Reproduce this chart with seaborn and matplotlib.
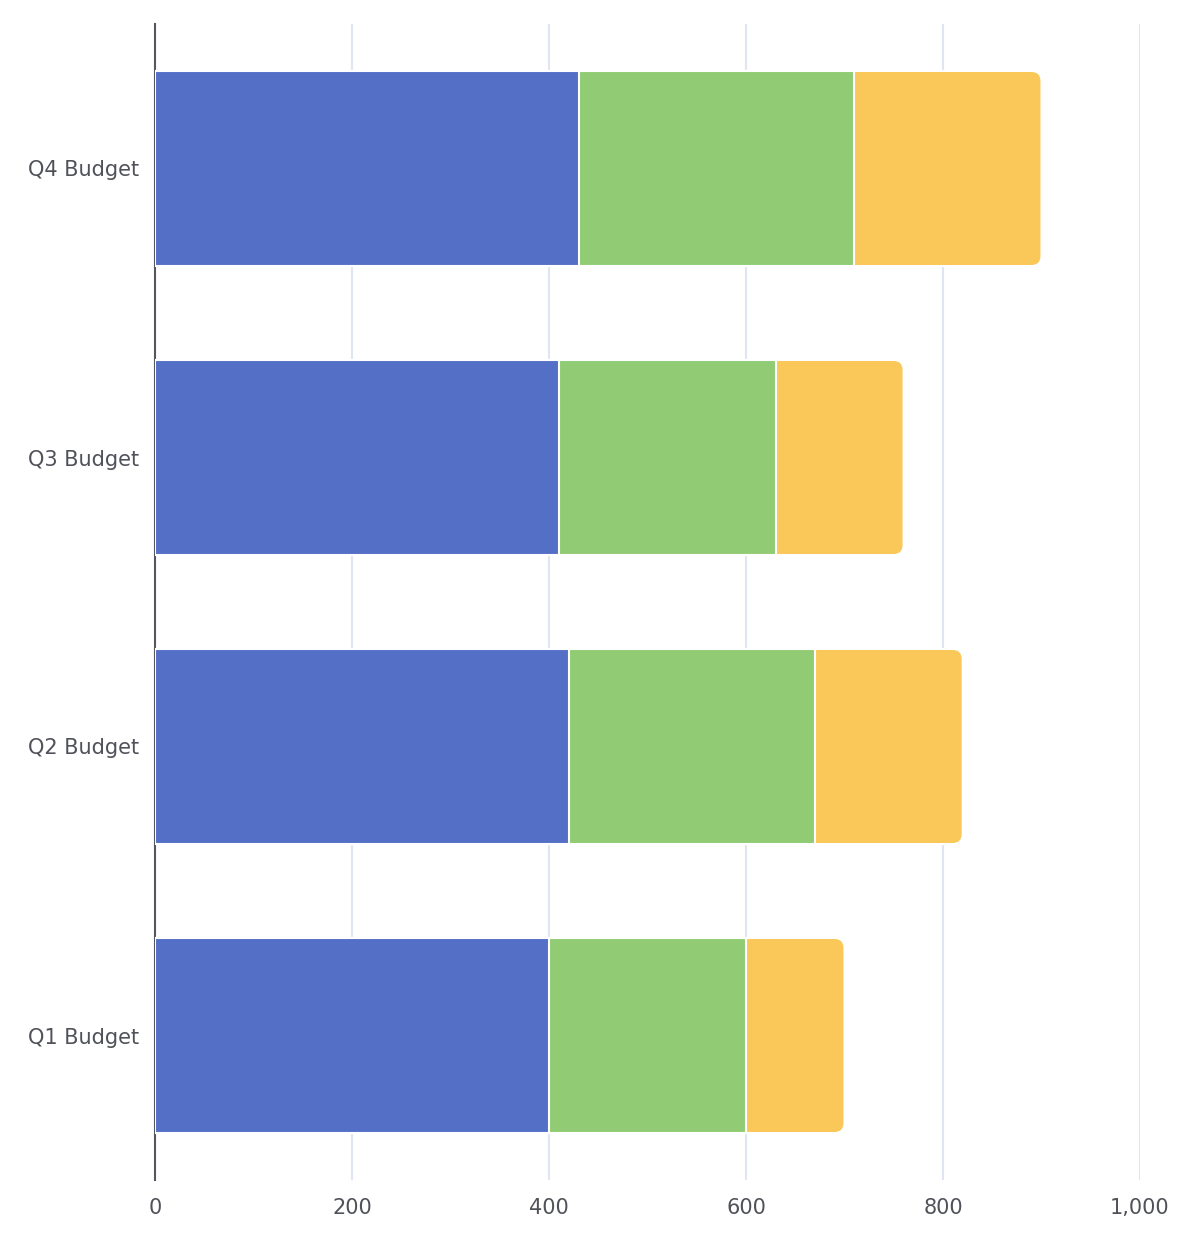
import matplotlib
matplotlib.use("Agg")
import matplotlib.pyplot as plt
from matplotlib.patches import FancyBboxPatch
from matplotlib.ticker import FuncFormatter, MultipleLocator
import seaborn as sns
import pandas as pd

categories = ["Q4 Budget", "Q3 Budget", "Q2 Budget", "Q1 Budget"]
series_a = [430, 410, 420, 400]
series_b = [280, 220, 250, 200]
series_c = [190, 130, 150, 100]
colors = ["#5470c6", "#91cc75", "#fac858"]

sns.set_theme(style="white")
plt.rcParams["font.family"] = ["DejaVu Sans"]

df = pd.DataFrame({"cat": categories, "a": series_a, "b": series_b, "c": series_c})
df["ab"] = df["a"] + df["b"]
df["abc"] = df["ab"] + df["c"]

W, H = 1195, 1243
fig = plt.figure(figsize=(W / 100, H / 100), dpi=100)
ax = fig.add_axes([155 / W, (H - 1180) / H, (1140 - 155) / W, (1180 - 24) / H])

bw = 0.675
sns.barplot(data=df, y="cat", x="abc", order=categories, color=colors[2], width=bw,
            edgecolor="white", linewidth=1.5, saturation=1, ax=ax, zorder=2)
n_c = len(ax.patches)
sns.barplot(data=df, y="cat", x="ab", order=categories, color=colors[1], width=bw,
            edgecolor="white", linewidth=1.5, saturation=1, ax=ax, zorder=3)
sns.barplot(data=df, y="cat", x="a", order=categories, color=colors[0], width=bw,
            edgecolor="white", linewidth=1.5, saturation=1, ax=ax, zorder=4)

ax.set_xlim(0, 1000)
ax.set_ylim(3.5, -0.5)

# rounded right end for the outermost segment
xpx = (1140 - 155) / 1000.0  # px per x unit
ypx = (1180 - 24) / 4.0      # px per y unit
r_px = 10
for p in list(ax.patches)[:n_c]:
    x0, y0, w, h = p.get_x(), p.get_y(), p.get_width(), p.get_height()
    p.set_visible(False)
    fb = FancyBboxPatch((x0, y0), w, h,
                        boxstyle=f"round,pad=0,rounding_size={r_px / xpx}",
                        mutation_aspect=(1 / ypx) / (1 / xpx),
                        facecolor=colors[2], edgecolor="white", linewidth=1.5, zorder=2)
    ax.add_patch(fb)

ax.set_xlabel("")
ax.set_ylabel("")
ax.xaxis.set_major_locator(MultipleLocator(200))
ax.xaxis.set_major_formatter(FuncFormatter(lambda v, _: f"{int(v):,}"))
ax.grid(axis="x", color="#E0E6F1", linewidth=1.5, zorder=0)
ax.set_axisbelow(True)
for s in ["top", "right", "bottom"]:
    ax.spines[s].set_visible(False)
ax.spines["left"].set_color("#55575e")
ax.spines["left"].set_linewidth(1.5)
ax.spines["left"].set_zorder(1)
ax.tick_params(axis="both", length=0, labelsize=15, labelcolor="#505259")
ax.tick_params(axis="y", pad=11.5)
ax.tick_params(axis="x", pad=13)

fig.savefig("out.png", dpi=100)
